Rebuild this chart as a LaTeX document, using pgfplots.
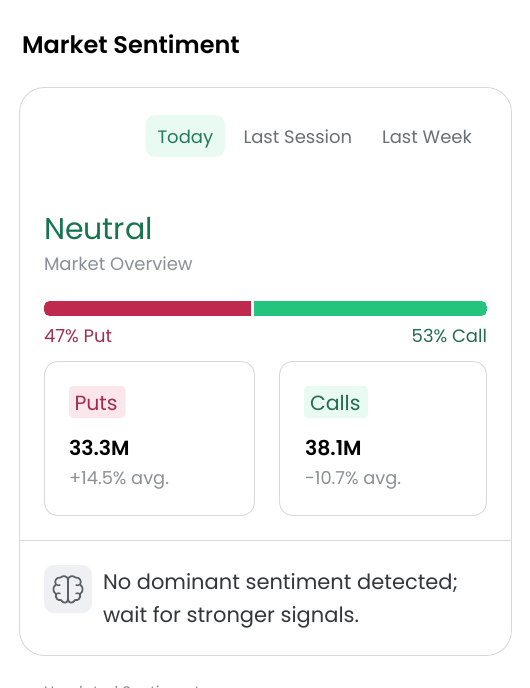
\documentclass[border=0pt]{standalone}
\usepackage{pgfplots}
\pgfplotsset{compat=1.18}
\usepackage{fontspec}
\setmainfont{Poppins}
\newfontfamily\psemi{Poppins SemiBold}
\definecolor{border}{HTML}{D9D9DB}
\definecolor{neutralg}{HTML}{16754F}
\definecolor{todayg}{HTML}{237A58}
\definecolor{tabbg}{HTML}{E9FAF2}
\definecolor{tabgray}{HTML}{6B6E75}
\definecolor{subgray}{HTML}{8B8F96}
\definecolor{barred}{HTML}{BF294E}
\definecolor{bargreen}{HTML}{24C47E}
\definecolor{putred}{HTML}{A32C50}
\definecolor{callg}{HTML}{236B50}
\definecolor{putbg}{HTML}{FBE7EB}
\definecolor{iconbg}{HTML}{EEF0F3}
\definecolor{icong}{HTML}{5A5F66}
\definecolor{bodyc}{HTML}{33363B}
\newcommand{\px}[1]{\fontsize{#1bp}{#1bp}\selectfont}
\newcommand{\brainhalf}{%
  \draw[icong,line width=1.7bp,line cap=round,line join=round]
    (68,580) .. controls (68,576) and (63,575) .. (60.5,577.5)
    .. controls (56,577) and (54,581.5) .. (56,584.5)
    .. controls (52.5,586.5) and (52.5,592) .. (56,594)
    .. controls (55,598) and (58,601) .. (61,600)
    .. controls (63,604) and (68,603.5) .. (68,599);
  \draw[icong,line width=1.5bp,line cap=round] (56,584.5) .. controls (57.5,585.5) and (59,585.5) .. (60,585);
  \draw[icong,line width=1.5bp,line cap=round] (56,594) .. controls (57.5,593) and (59,593) .. (60,593.5);
}
\begin{document}
\begin{tikzpicture}[x=1bp,y=-1bp,every node/.style={inner sep=0pt,outer sep=0pt}]
\clip (0,0) rectangle (530,688);
\fill[white] (0,0) rectangle (530,688);
% title
\node[anchor=base west] at (22,53.5) {\psemi\px{24}\color{black}Market Sentiment};
% card
\draw[border,line width=0.9bp,rounded corners=25bp] (19.5,87.5) rectangle (511.5,655.5);
\draw[border,line width=0.9bp] (19.5,540.5) -- (511.5,540.5);
% tabs
\fill[tabbg,rounded corners=10bp] (145.5,115) rectangle (225,157);
\node[anchor=base west] at (157.5,143) {\px{18}\color{todayg}Today};
\node[anchor=base west] at (243.5,143) {\px{18}\color{tabgray}Last Session};
\node[anchor=base west] at (382,143) {\px{18}\color{tabgray}Last Week};
% head
\node[anchor=base west] at (44,239) {\px{30}\color{neutralg}Neutral};
\node[anchor=base west] at (44,270) {\px{18}\color{subgray}Market Overview};
% bar
\begin{scope}
\clip[rounded corners=5.5bp] (44,301) rectangle (487,316);
\begin{axis}[
  at={(44bp,-316bp)},anchor=south west,
  width=443bp,height=15bp,scale only axis,
  xmin=0,xmax=100,ymin=0,ymax=1,
  axis lines=none,
  xbar stacked,bar width=15bp,
  clip=false
]
\addplot[draw=none,fill=barred] coordinates {(47,0.5)};
\addplot[draw=none,fill=bargreen] coordinates {(53,0.5)};
\end{axis}
\end{scope}
\fill[white] (251,300) rectangle (253.8,317);
\node[anchor=base west] at (44,342) {\px{18}\color{putred}47\% Put};
\node[anchor=base east] at (487,342) {\px{18}\color{callg}53\% Call};
% boxes
\draw[border,line width=0.9bp,rounded corners=13bp] (44.5,361.5) rectangle (254.5,515.5);
\draw[border,line width=0.9bp,rounded corners=13bp] (279.5,361.5) rectangle (486.5,515.5);
\fill[putbg,rounded corners=4bp] (69,386) rectangle (125.5,418);
\fill[tabbg,rounded corners=4bp] (304,386) rectangle (368,418);
\node[anchor=base west] at (74.5,410) {\px{20.5}\color{putred}Puts};
\node[anchor=base west] at (310,410) {\px{20.5}\color{callg}Calls};
\node[anchor=base west] at (69,455) {\psemi\px{20.5}\color{black}33.3M};
\node[anchor=base west] at (305,455) {\psemi\px{20.5}\color{black}38.1M};
\node[anchor=base west] at (69,484) {\px{17.8}\color{subgray}+14.5\% avg.};
\node[anchor=base west] at (305,484) {\px{17.8}\color{subgray}-10.7\% avg.};
% icon
\fill[iconbg,rounded corners=10bp] (44,565) rectangle (92,613);
\brainhalf
\begin{scope}[shift={(136,0)},xscale=-1]
\brainhalf
\end{scope}
\draw[icong,line width=1.7bp] (68,580) -- (68,600);
% text
\node[anchor=base west] at (103,589) {\px{21}\color{bodyc}No dominant sentiment detected;};
\node[anchor=base west] at (103,622) {\px{21}\color{bodyc}wait for stronger signals.};
% text cut by the lower edge of the picture
\node[anchor=base west] at (44,697) {\px{15.2}\color{subgray}Unrelated Sentiment};
\end{tikzpicture}
\end{document}
